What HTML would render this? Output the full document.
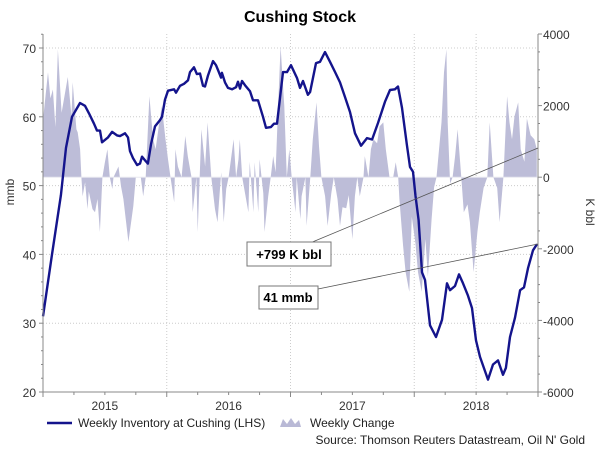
<!DOCTYPE html>
<html><head><meta charset="utf-8"><style>
body{margin:0;background:#fff;}
svg{display:block;font-family:"Liberation Sans",sans-serif;}
</style></head><body>
<svg id="chart" width="600" height="452" viewBox="0 0 600 452">
<text x="300" y="22" text-anchor="middle" font-size="16" font-weight="bold">Cushing Stock</text>
<g id="grid"></g>
<g id="bars"></g>
<g id="line"></g>
<g id="axes"></g>
<text transform="translate(14,192) rotate(-90)" text-anchor="middle" font-size="12" fill="#333">mmb</text>
<text transform="translate(586,212) rotate(90)" text-anchor="middle" font-size="12" fill="#333">K bbl</text>
<g>
<line x1="310" y1="243" x2="538" y2="148" stroke="#555" stroke-width="0.8"/>
<rect x="247" y="242" width="84" height="24" fill="#fff" stroke="#777"/>
<text x="289" y="259" text-anchor="middle" font-size="13" font-weight="bold">+799 K bbl</text>
</g>
<g>
<line x1="318" y1="289" x2="538" y2="244" stroke="#555" stroke-width="0.8"/>
<rect x="259" y="286" width="59" height="23" fill="#fff" stroke="#777"/>
<text x="288" y="302" text-anchor="middle" font-size="13" font-weight="bold">41 mmb</text>
</g>
<g>
<line x1="47" y1="423" x2="72" y2="423" stroke="#14148c" stroke-width="2.5"/>
<text x="78" y="427" font-size="12" fill="#222">Weekly Inventory at Cushing (LHS)</text>
<path d="M280,427 L283,419 L287,424 L291,418 L295,424 L299,420 L301,427 Z" fill="#b9b9d6"/>
<text x="310" y="427" font-size="12" fill="#222">Weekly Change</text>
</g>
<text x="585" y="444" text-anchor="end" font-size="12" fill="#222">Source: Thomson Reuters Datastream, Oil N' Gold</text>
</svg>
<script>
// inventory (mmb), time in years after 2015-01-01
const invTime=[0,.073,.145,.186,.234,.299,.339,.372,.412,.436,.461,.477,.525,.558,.598,.622,.663,.687,.703,.727,.760,.784,.800,.832,.848,.873,.905,.945,.962,.986,1.010,1.059,1.075,1.107,1.139,1.172,1.188,1.220,1.244,1.269,1.293,1.309,1.333,1.374,1.398,1.414,1.438,1.446,1.471,1.495,1.527,1.560,1.576,1.592,1.608,1.632,1.673,1.697,1.737,1.778,1.802,1.842,1.867,1.891,1.939,1.972,2.004,2.053,2.077,2.101,2.141,2.158,2.206,2.238,2.279,2.319,2.360,2.400,2.440,2.481,2.521,2.570,2.618,2.659,2.707,2.764,2.804,2.844,2.869,2.901,2.941,2.966,2.990,3.010,3.035,3.063,3.087,3.127,3.176,3.224,3.265,3.289,3.329,3.362,3.394,3.434,3.467,3.499,3.531,3.596,3.636,3.677,3.717,3.741,3.774,3.814,3.855,3.887,3.919,3.960,3.992];
const invValues=[31,40,48.6,55.5,60,62,61.6,60.5,59,58,58,56.3,57,57.8,57.3,57.2,57.6,57,55,54,53,53.2,54.2,53.5,53.2,56,58.6,59.5,60,62.5,63.8,64,63.5,64.5,64.8,65.3,66.5,67.2,66.2,66.3,64.5,64.4,66,68.1,67.5,66.8,65.7,66.4,65,64.2,64,64.3,65.1,64.1,65.2,64.6,63.7,62.4,62.4,60,58.4,58.5,59,59,66.5,66.5,67.5,65.6,64.2,65.2,63.2,63.6,67.8,68,69.4,68,66.5,65,62.9,60.7,57.6,55.8,56.9,56.7,59.1,62.2,63.9,64,64.4,61.3,55.9,52.7,52,48.5,45,37.4,36.3,29.7,28,30.5,35.8,34.8,35.4,37.1,35.8,34,32.2,27.5,25.1,21.8,24,24.6,22.5,23.5,28,30.8,34.8,35.2,38,40.6,41.5];
// weekly change (K bbl)
const chgTime=[0,.04,.06,.08,.10,.12,.15,.20,.23,.24,.27,.28,.30,.31,.32,.34,.36,.37,.40,.42,.44,.46,.48,.50,.52,.54,.56,.57,.61,.63,.65,.69,.73,.75,.79,.81,.83,.86,.89,.91,.94,.96,.99,1.01,1.03,1.06,1.07,1.09,1.12,1.15,1.17,1.20,1.21,1.24,1.25,1.28,1.31,1.33,1.36,1.39,1.41,1.44,1.46,1.48,1.50,1.54,1.56,1.58,1.59,1.61,1.66,1.67,1.70,1.71,1.74,1.75,1.78,1.79,1.82,1.84,1.86,1.88,1.90,1.92,1.95,1.97,1.99,2.01,2.04,2.05,2.08,2.09,2.12,2.13,2.16,2.18,2.21,2.23,2.25,2.28,2.30,2.33,2.35,2.38,2.40,2.42,2.45,2.47,2.50,2.52,2.54,2.56,2.59,2.60,2.63,2.65,2.67,2.70,2.72,2.75,2.77,2.80,2.83,2.85,2.87,2.88,2.91,2.93,2.96,2.98,3.01,3.03,3.06,3.09,3.11,3.14,3.16,3.18,3.22,3.24,3.26,3.27,3.29,3.31,3.33,3.35,3.38,3.40,3.43,3.45,3.48,3.51,3.53,3.56,3.59,3.61,3.64,3.67,3.69,3.72,3.75,3.77,3.79,3.81,3.84,3.86,3.89,3.91,3.94,3.97,3.99];
const chgValues=[1600,2930,2200,2450,1400,3570,1800,2800,1700,2650,1340,1250,780,0,-530,-140,-890,-400,-890,-980,-610,-1530,0,420,780,0,-330,0,300,-250,-610,-1810,-810,0,0,-530,0,2260,1060,780,1530,1980,1060,500,0,-700,780,300,0,1150,590,0,-980,0,-1530,1340,300,1530,0,-890,-1260,140,-1260,-330,0,1060,0,500,1060,0,-980,430,-980,420,-980,500,-450,-1530,-530,0,590,140,1980,3650,1980,0,780,0,-980,0,-1170,-530,0,-1360,0,1060,2090,870,0,-530,-1360,-450,0,-610,-1360,-840,-870,-500,-1730,-530,0,-530,0,590,0,780,1060,950,1420,1530,780,0,0,420,0,-610,-1920,-2650,-3200,-1100,-1860,-2650,-3200,-1730,-2780,-1170,-280,0,1530,2930,3570,1530,-180,0,590,1340,0,-980,-760,-1260,-2650,-1530,-980,-300,0,1530,0,-300,-1260,0,2260,1530,1060,1700,2090,780,430,1640,1170,1060,780];
const leftTicks=[20,30,40,50,60,70];
const rightTicks=[-6000,-4000,-2000,0,2000,4000];
const yearLabels=["2015","2016","2017","2018"];

const NS="http://www.w3.org/2000/svg";
const X0=43,X1=538,YB=392;
const xS=t=>X0+t*123.75;
const yL=v=>48+(70-v)*6.88;
const yR=v=>34+(4000-v)*0.0358;
function mk(tag,attrs,parent){const e=document.createElementNS(NS,tag);for(const k in attrs)e.setAttribute(k,attrs[k]);parent.appendChild(e);return e;}
const grid=document.getElementById('grid'),bars=document.getElementById('bars'),line=document.getElementById('line'),axes=document.getElementById('axes');

leftTicks.forEach(v=>{if(v>20){const g=mk('line',{x1:X0,x2:X1,y1:yL(v),y2:yL(v),stroke:'#ccc','stroke-dasharray':'1,2'},grid);

}});
[1,2,3,3.5].forEach(t=>{const g=mk('line',{x1:xS(t),x2:xS(t),y1:34,y2:YB,stroke:'#ccc','stroke-dasharray':'1,2'},grid);

});

let d='M'+xS(chgTime[0])+','+yR(0);
chgTime.forEach((t,i)=>{d+=' L'+xS(t).toFixed(1)+','+yR(chgValues[i]).toFixed(1);});
d+=' L'+xS(chgTime[chgTime.length-1])+','+yR(0)+' Z';
const area=mk('path',{d:d,fill:'#bdbdd8'},bars);


const base=mk('line',{x1:X0,x2:X1,y1:yR(0),y2:yR(0),stroke:'#e8e8f0','stroke-width':1},bars);



let p='';
invTime.forEach((t,i)=>{p+=(i?' L':'M')+xS(t).toFixed(1)+','+yL(invValues[i]).toFixed(1);});
const ln=mk('path',{d:p,fill:'none',stroke:'#14148c','stroke-width':2.4,'stroke-linejoin':'round'},line);



mk('line',{x1:X0,x2:X0,y1:34,y2:YB,stroke:'#888'},axes);
mk('line',{x1:X1,x2:X1,y1:34,y2:YB,stroke:'#888'},axes);
mk('line',{x1:X0,x2:X1,y1:YB,y2:YB,stroke:'#888'},axes);
for(let v=20;v<=72;v+=2){mk('line',{x1:X0-(v%10?2:4),x2:X0,y1:yL(v),y2:yL(v),stroke:'#888'},axes);}
for(let v=-6000;v<=4000;v+=500){mk('line',{x1:X1,x2:X1+(v%2000?2:4),y1:yR(v),y2:yR(v),stroke:'#888'},axes);}
for(let q=0;q<=16;q++){mk('line',{x1:xS(q/4),x2:xS(q/4),y1:YB,y2:YB+(q%4?3:5),stroke:'#888'},axes);}
leftTicks.forEach(v=>{const t=mk('text',{x:36,y:yL(v)+5,'text-anchor':'end','font-size':12,fill:'#333'},axes);t.textContent=v;

});
rightTicks.forEach(v=>{const t=mk('text',{x:543,y:yR(v)+5,'font-size':12,fill:'#333'},axes);t.textContent=v;

});
yearLabels.forEach((y,i)=>{const t=mk('text',{x:xS(i+0.5),y:410,'text-anchor':'middle','font-size':12,fill:'#333'},axes);t.textContent=y;

});
</script>
</body></html>
